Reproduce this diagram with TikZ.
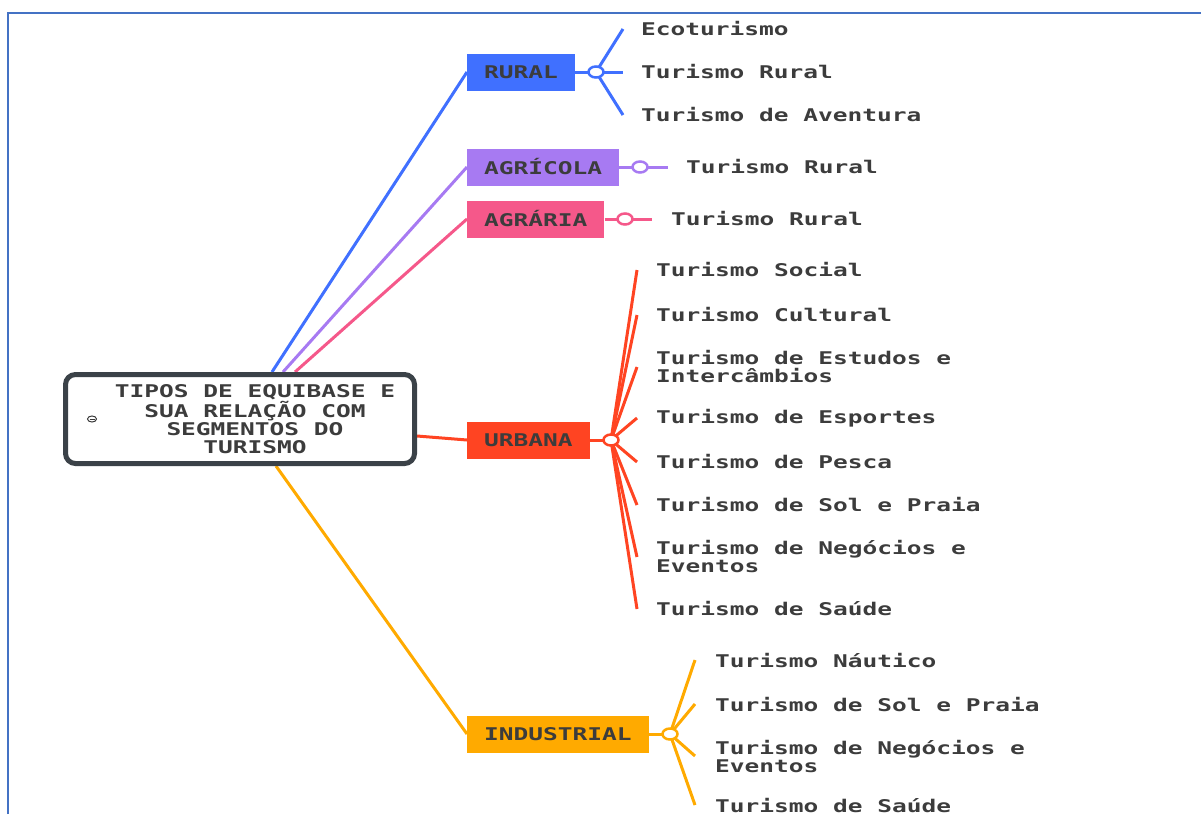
\documentclass[tikz,border=0pt]{standalone}
\usepackage{fontspec}
\usepackage{xcolor}
\usetikzlibrary{shapes.geometric}
\newfontfamily\mapfont{DejaVu Sans Mono}[FakeStretch=1.4]
\definecolor{framebl}{HTML}{4472C4}
\definecolor{rootgray}{HTML}{3B4248}
\definecolor{textgray}{HTML}{3C3C3C}
\definecolor{ruralblue}{HTML}{4070FF}
\definecolor{agripurple}{HTML}{A77AF2}
\definecolor{agrapink}{HTML}{F5588A}
\definecolor{urbred}{HTML}{FF4422}
\definecolor{indamber}{HTML}{FFAA00}
\pgfdeclarelayer{bg}
\pgfsetlayers{bg,main}

\begin{document}
\begin{tikzpicture}[x=1pt,y=-1pt,
	every node/.style={font=\mapfont\bfseries\fontsize{17.5}{18}\selectfont, text=textgray},
	rootbox/.style={rectangle, rounded corners=10pt, draw=rootgray, line width=5pt, minimum width=349pt, minimum height=89pt},
	cat/.style={rectangle, fill=#1, minimum height=37pt, inner xsep=17pt, inner ysep=0pt, anchor=west},
	hub/.style={ellipse, draw=#1, fill=white, line width=2.5pt, minimum width=15pt, minimum height=11pt, inner sep=0pt},
	leaf/.style={anchor=west, align=left, inner sep=0pt},
	link/.style={draw=#1, line width=3pt}]
	\useasboundingbox (0,0) rectangle (1201,814);
	\draw[framebl, line width=2.5pt] (8,814) -- (8,13) -- (1201,13);

	% central topic
	\node[rootbox] (root) at (240,419) {};
	\node[align=center, inner sep=0pt] (title) at (255,419) {TIPOS DE EQUIBASE E\\SUA RELAÇÃO COM\\SEGMENTOS DO\\TURISMO};
	\node[ellipse, draw=textgray, line width=1pt, minimum width=9pt, minimum height=6pt, inner sep=0pt] (icon) at (92,419) {};
	\draw[textgray, line width=1pt] ([xshift=-2.5pt]icon.center) -- ([xshift=2.5pt]icon.center);

	% main branches
	\node[cat=ruralblue] (rural) at (467,72) {RURAL};
	\node[cat=agripurple] (agricola) at (467,167) {AGRÍCOLA};
	\node[cat=agrapink] (agraria) at (467,219) {AGRÁRIA};
	\node[cat=urbred] (urbana) at (467,440) {URBANA};
	\node[cat=indamber] (industrial) at (467,734) {INDUSTRIAL};

	\node[hub=ruralblue] (hrural) at (596,72) {};
	\node[hub=agripurple] (hagricola) at (640,167) {};
	\node[hub=agrapink] (hagraria) at (625,219) {};
	\node[hub=urbred] (hurbana) at (611,440) {};
	\node[hub=indamber] (hindustrial) at (670,734) {};

	% leaves
	\node[leaf] (r1) at (641,29) {Ecoturismo};
	\node[leaf] (r2) at (641,72) {Turismo Rural};
	\node[leaf] (r3) at (641,115) {Turismo de Aventura};
	\node[leaf] (a1) at (686,167) {Turismo Rural};
	\node[leaf] (g1) at (671,219) {Turismo Rural};
	\node[leaf] (u1) at (656,270) {Turismo Social};
	\node[leaf] (u2) at (656,315) {Turismo Cultural};
	\node[leaf] (u3) at (656,367) {Turismo de Estudos e\\Intercâmbios};
	\node[leaf] (u4) at (656,418) {Turismo de Esportes};
	\node[leaf] (u5) at (656,462) {Turismo de Pesca};
	\node[leaf] (u6) at (656,505) {Turismo de Sol e Praia};
	\node[leaf] (u7) at (656,557) {Turismo de Negócios e\\Eventos};
	\node[leaf] (u8) at (656,609) {Turismo de Saúde};
	\node[leaf] (i1) at (715,660) {Turismo Náutico};
	\node[leaf] (i2) at (715,704) {Turismo de Sol e Praia};
	\node[leaf] (i3) at (715,756) {Turismo de Negócios e\\Eventos};
	\node[leaf] (i4) at (715,805) {Turismo de Saúde};

	\begin{pgfonlayer}{bg}
		\draw[link=ruralblue] ([xshift=32pt]root.north) -- (rural.west);
		\draw[link=agripurple] ([xshift=43pt]root.north) -- (agricola.west);
		\draw[link=agrapink] ([xshift=55pt]root.north) -- (agraria.west);
		\draw[link=urbred] ([yshift=-17pt]root.east) -- (urbana.west);
		\draw[link=indamber] ([xshift=36pt]root.south) -- (industrial.west);

		\draw[link=ruralblue] (rural.east) -- (hrural.center);
		\draw[link=agripurple] (agricola.east) -- (hagricola.center);
		\draw[link=agrapink] (agraria.east) -- (hagraria.center);
		\draw[link=urbred] (urbana.east) -- (hurbana.center);
		\draw[link=indamber] (industrial.east) -- (hindustrial.center);

		\foreach \n in {r1,r2,r3}
			\draw[link=ruralblue] (hrural.center) -- ([xshift=-18pt]\n.west);
		\draw[link=agripurple] (hagricola.center) -- ([xshift=-18pt]a1.west);
		\draw[link=agrapink] (hagraria.center) -- ([xshift=-19pt]g1.west);
		\foreach \n in {u1,u2,u3,u4,u5,u6,u7,u8}
			\draw[link=urbred] (hurbana.center) -- ([xshift=-19pt]\n.west);
		\foreach \n in {i1,i2,i3,i4}
			\draw[link=indamber] (hindustrial.center) -- ([xshift=-20pt]\n.west);
	\end{pgfonlayer}
\end{tikzpicture}
\end{document}
